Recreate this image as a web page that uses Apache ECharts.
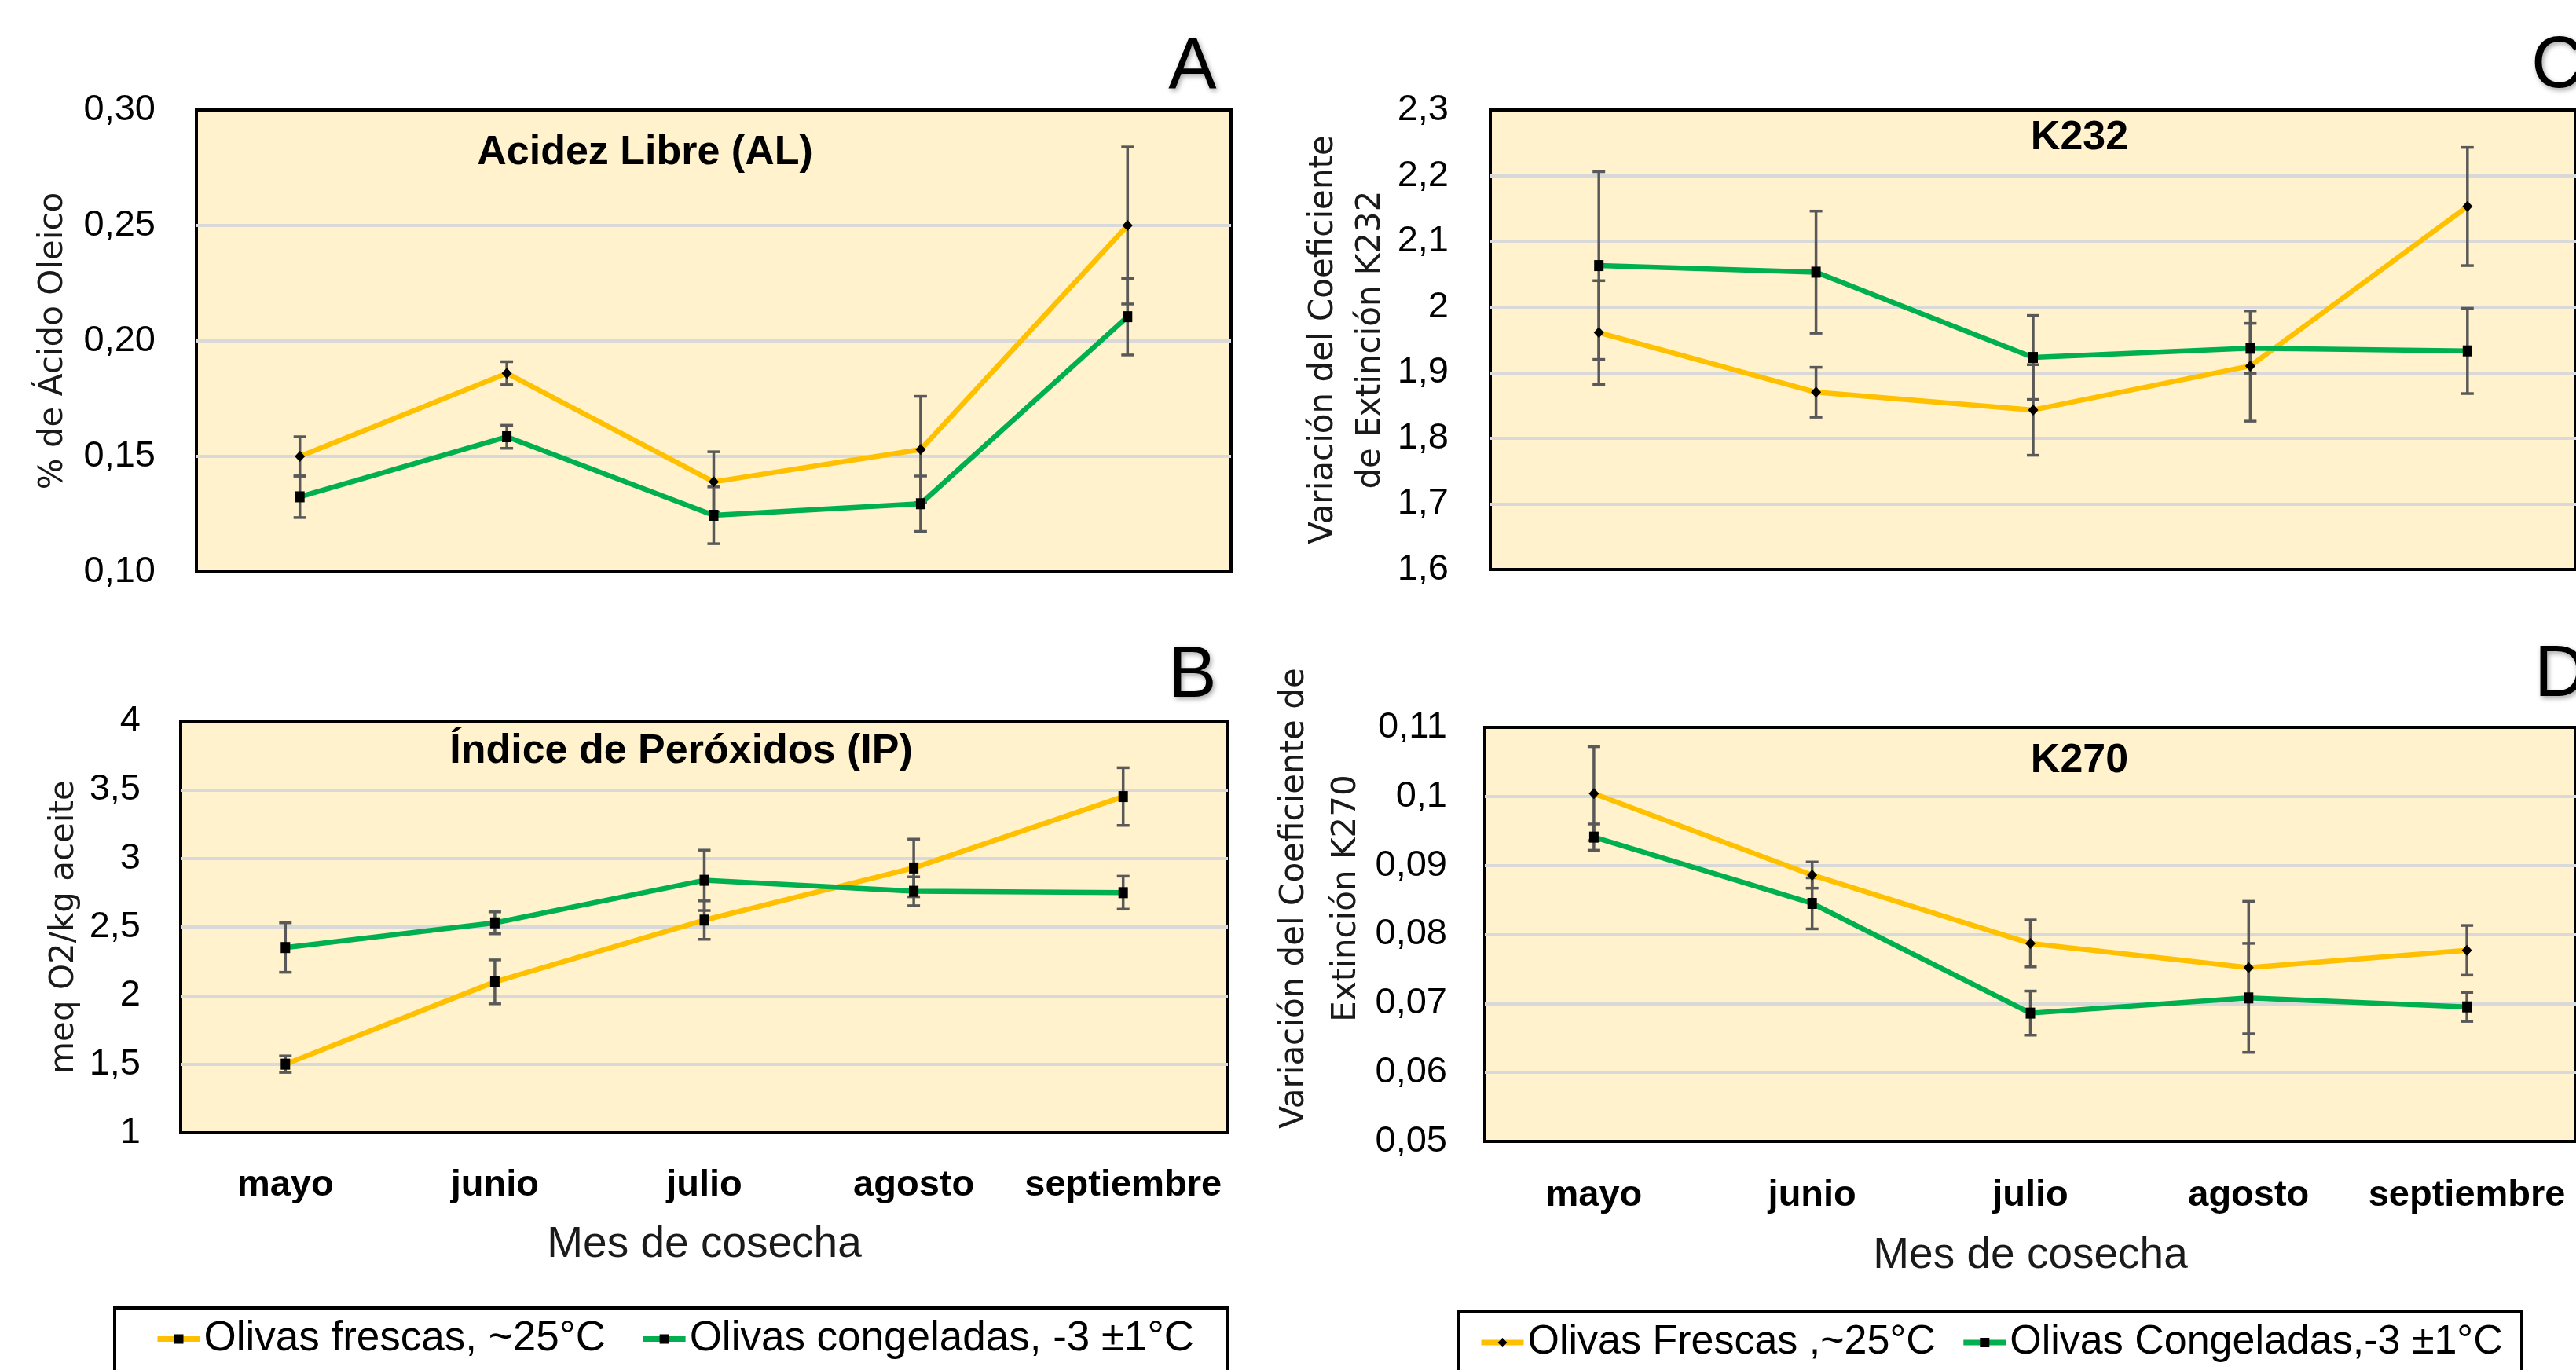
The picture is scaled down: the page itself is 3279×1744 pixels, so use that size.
<!DOCTYPE html>
<html><head><meta charset="utf-8">
<script src="https://cdn.jsdelivr.net/npm/echarts@6/dist/echarts.min.js"></script>
<style>html,body{margin:0;padding:0;background:#fff}#c{width:3279px;height:1744px}</style>
</head><body><div id="c"></div><script>
// ---------------- data ----------------
const categories = ['mayo', 'junio', 'julio', 'agosto', 'septiembre'];

// A: Acidez Libre (% ácido oleico)
const alFrescas      = [0.150, 0.186, 0.139, 0.153, 0.250];
const alFrescasErr   = [0.0085, 0.005, 0.013, 0.023, 0.034];
const alCongeladas   = [0.1325, 0.1585, 0.1245, 0.1295, 0.2105];
const alCongeladasErr= [0.009, 0.005, 0.0123, 0.012, 0.0166];

// B: Índice de Peróxidos (meq O2/kg)
const ipFrescas      = [1.50, 2.10, 2.55, 2.93, 3.45];
const ipFrescasErr   = [0.06, 0.16, 0.14, 0.21, 0.21];
const ipCongeladas   = [2.35, 2.53, 2.84, 2.76, 2.75];
const ipCongeladasErr= [0.18, 0.08, 0.22, 0.105, 0.12];

// C: K232
const k232Frescas      = [1.961, 1.870, 1.843, 1.910, 2.153];
const k232FrescasErr   = [0.079, 0.038, 0.069, 0.084, 0.090];
const k232Congeladas   = [2.063, 2.053, 1.923, 1.937, 1.933];
const k232CongeladasErr= [0.143, 0.093, 0.064, 0.038, 0.065];

// D: K270
const k270Frescas      = [0.1004, 0.0886, 0.0787, 0.0752, 0.0777];
const k270FrescasErr   = [0.0068, 0.0019, 0.0034, 0.0096, 0.0036];
const k270Congeladas   = [0.0941, 0.0845, 0.0686, 0.0708, 0.0695];
const k270CongeladasErr= [0.0019, 0.0037, 0.0032, 0.0079, 0.0021];

// axis ranges [min, max, interval]
const alAxis   = [0.10, 0.30, 0.05];
const ipAxis   = [1, 4, 0.5];
const k232Axis = [1.6, 2.3, 0.1];
const k270Axis = [0.05, 0.11, 0.01];

// texts
const panelTitles  = ['Acidez Libre (AL)', 'Índice de Peróxidos (IP)', 'K232', 'K270'];
const panelLetters = ['A', 'B', 'C', 'D'];
const yNames = ['% de Ácido Oleico', 'meq O2/kg aceite',
                'Variación del Coeficiente\nde Extinción K232',
                'Variación del Coeficiente de\nExtinción K270'];
const xName = 'Mes de cosecha';
const legendNamesAB = ['Olivas frescas, ~25°C', 'Olivas congeladas, -3 ±1°C'];
const legendNamesCD = ['Olivas Frescas ,~25°C', 'Olivas Congeladas,-3 ±1°C'];

// ---------------- style ----------------
const YELLOW = '#FFC000', GREEN = '#00B050';
const SANS = "'Liberation Sans', Arial, sans-serif";
const WIDE = "'DejaVu Sans', Verdana, sans-serif";

const grids = [
  {left: 250,  top: 140, width: 1317, height: 588},
  {left: 230,  top: 918, width: 1333, height: 524},
  {left: 1897, top: 140, width: 1401, height: 585},
  {left: 1890, top: 926, width: 1406, height: 527}
].map(g => Object.assign({show: true, backgroundColor: '#FFF2CC', borderColor: '#000', borderWidth: 4, z: 0}, g));

function fmt2(v) { return v.toFixed(2).replace('.', ','); }
function fmtN(v) { return String(+v.toFixed(4)).replace('.', ','); }

const axes = [alAxis, ipAxis, k232Axis, k270Axis];
const labelMargins = [52, 51, 53, 48];
const nameGaps = [160, 126, 116, 139];
const yAxes = axes.map((a, i) => ({
  type: 'value', gridIndex: i, min: a[0], max: a[1], interval: a[2],
  axisLine: {show: false}, axisTick: {show: false},
  splitLine: {show: true, showMinLine: false, showMaxLine: false,
              lineStyle: {color: '#D9D9D9', width: 4}},
  axisLabel: {fontFamily: SANS, fontSize: 47, color: '#000', margin: labelMargins[i],
              formatter: i === 0 ? fmt2 : fmtN},
  name: yNames[i], nameLocation: 'middle', nameGap: nameGaps[i],
  nameTextStyle: {fontFamily: WIDE, fontSize: 42, color: '#1a1a1a',
                  lineHeight: i === 2 ? 60 : (i === 3 ? 66 : 44),
                  padding: i === 3 ? [0, 0, 0, 92] : 0}
}));

const xShowLabels = [false, true, false, true];
const xMargins = [0, 44, 0, 46];
const xNameGaps = [0, 115, 0, 118];
const xAxes = [0, 1, 2, 3].map(i => ({
  type: 'category', gridIndex: i, data: categories, boundaryGap: true,
  axisLine: {show: false}, axisTick: {show: false},
  axisLabel: {show: xShowLabels[i], fontFamily: SANS, fontWeight: 'bold', fontSize: 47,
              color: '#000', margin: xMargins[i], interval: 0},
  name: xShowLabels[i] ? xName : '', nameLocation: 'middle', nameGap: xNameGaps[i],
  nameTextStyle: {fontFamily: SANS, fontSize: 55, color: '#1a1a1a'}
}));

function errRender(params, api) {
  const x = api.value(0), v = api.value(1), e = api.value(2);
  const top = api.coord([x, v + e]);
  const bot = api.coord([x, v - e]);
  const hw = 8;
  const style = {stroke: '#595959', lineWidth: 3.5, fill: null};
  return {type: 'group', children: [
    {type: 'line', shape: {x1: top[0], y1: top[1], x2: bot[0], y2: bot[1]}, style},
    {type: 'line', shape: {x1: top[0] - hw, y1: top[1], x2: top[0] + hw, y2: top[1]}, style},
    {type: 'line', shape: {x1: bot[0] - hw, y1: bot[1], x2: bot[0] + hw, y2: bot[1]}, style}
  ]};
}

function lineSeries(name, idx, vals, color, symbol) {
  return {
    type: 'line', name, xAxisIndex: idx, yAxisIndex: idx, data: vals,
    symbol, symbolSize: symbol === 'diamond' ? [13, 14] : [12, 14],
    showAllSymbol: true, z: 3,
    lineStyle: {color, width: 6.5},
    itemStyle: {color: '#000', borderWidth: 0},
    emphasis: {disabled: true}, animation: false
  };
}
function errSeries(idx, vals, errs) {
  return {
    type: 'custom', xAxisIndex: idx, yAxisIndex: idx, z: 2,
    renderItem: errRender, encode: {x: 0, y: 1},
    data: categories.map((c, i) => [i, vals[i], errs[i]]),
    silent: true, animation: false
  };
}

const series = [
  // panel B first so legend A/B takes its square markers
  errSeries(1, ipFrescas, ipFrescasErr),
  errSeries(1, ipCongeladas, ipCongeladasErr),
  lineSeries(legendNamesAB[0], 1, ipFrescas, YELLOW, 'rect'),
  lineSeries(legendNamesAB[1], 1, ipCongeladas, GREEN, 'rect'),
  errSeries(0, alFrescas, alFrescasErr),
  errSeries(0, alCongeladas, alCongeladasErr),
  lineSeries(legendNamesAB[0], 0, alFrescas, YELLOW, 'diamond'),
  lineSeries(legendNamesAB[1], 0, alCongeladas, GREEN, 'rect'),
  errSeries(2, k232Frescas, k232FrescasErr),
  errSeries(2, k232Congeladas, k232CongeladasErr),
  lineSeries(legendNamesCD[0], 2, k232Frescas, YELLOW, 'diamond'),
  lineSeries(legendNamesCD[1], 2, k232Congeladas, GREEN, 'rect'),
  errSeries(3, k270Frescas, k270FrescasErr),
  errSeries(3, k270Congeladas, k270CongeladasErr),
  lineSeries(legendNamesCD[0], 3, k270Frescas, YELLOW, 'diamond'),
  lineSeries(legendNamesCD[1], 3, k270Congeladas, GREEN, 'rect')
];

const titlePos = [[821, 169], [867, 931], [2647, 150], [2647, 943]];
const letterPos = [[1518, 42, 'center'], [1518, 816, 'center'], [3222, 40, 'left'], [3226, 815, 'left']];
const titles = panelTitles.map((t, i) => ({
  text: t, left: titlePos[i][0], top: titlePos[i][1], textAlign: 'center', padding: 0,
  textStyle: {fontFamily: SANS, fontWeight: 'bold', fontSize: 52, color: '#000'}
})).concat(panelLetters.map((t, i) => ({
  text: t, left: letterPos[i][0], top: letterPos[i][1], textAlign: letterPos[i][2], padding: 0,
  textStyle: {fontFamily: SANS, fontWeight: 'normal', fontSize: 92, color: '#000',
              textShadowColor: 'rgba(0,0,0,0.35)', textShadowBlur: 6,
              textShadowOffsetX: 2, textShadowOffsetY: 3}
})));

const legendCommon = {
  orient: 'horizontal', padding: 0, itemWidth: 54, itemHeight: 15,
  selectedMode: false,
  lineStyle: {width: 7}
};

const option = {
  backgroundColor: '#fff',
  animation: false,
  textStyle: {fontFamily: SANS},
  grid: grids,
  xAxis: xAxes,
  yAxis: yAxes,
  title: titles,
  legend: [
    Object.assign({}, legendCommon, {data: legendNamesAB, left: 197, top: 1678, itemGap: 44,
      textStyle: {fontFamily: SANS, fontSize: 53, color: '#000'}}),
    Object.assign({}, legendCommon, {data: legendNamesCD, left: 1882, top: 1683, itemGap: 32,
      textStyle: {fontFamily: SANS, fontSize: 52, color: '#000'}})
  ],
  graphic: [
    {type: 'rect', shape: {x: 146, y: 1665, width: 1416, height: 150},
     style: {fill: null, stroke: '#000', lineWidth: 4}, silent: true},
    {type: 'rect', shape: {x: 1856, y: 1669, width: 1354, height: 150},
     style: {fill: null, stroke: '#000', lineWidth: 4}, silent: true}
  ],
  series
};

const chart = echarts.init(document.getElementById('c'), null, {renderer: 'canvas'});
chart.setOption(option);
</script></body></html>
